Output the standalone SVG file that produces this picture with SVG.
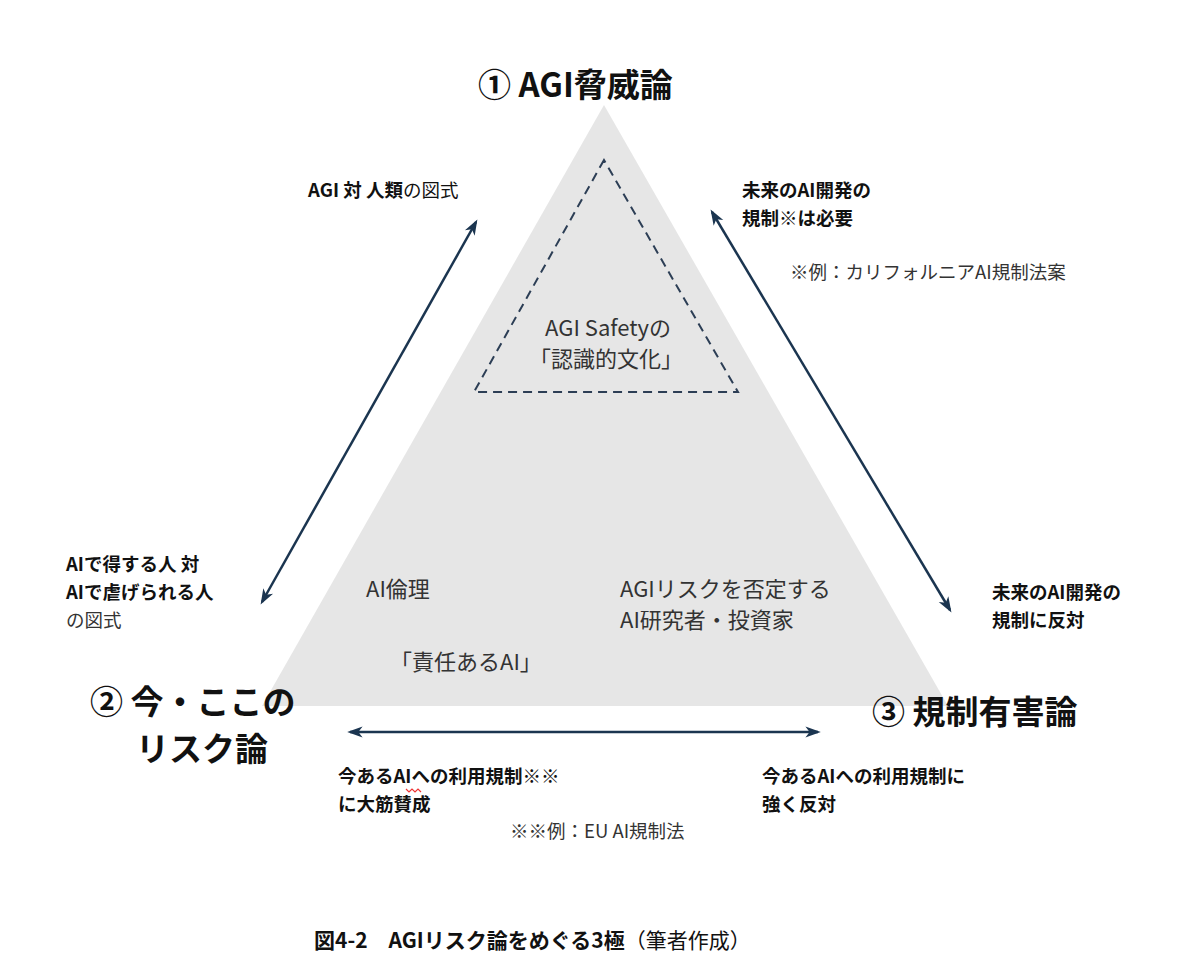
<svg xmlns="http://www.w3.org/2000/svg" width="1184" height="966" viewBox="0 0 1184 966">
<style>
text{font-family:"Noto Sans CJK JP","Noto Sans",sans-serif;fill:#222}
.t{font-size:33px;font-weight:700;fill:#111}
.b{font-size:18.5px;font-weight:700;fill:#111}
.n{font-size:18.5px;fill:#333}
.m{font-size:22px;fill:#333}
.c{stroke:#1b3550;stroke-width:2.5;fill:none;marker-start:url(#a);marker-end:url(#a)}
</style>
<defs><marker id="a" viewBox="0 0 10 10" refX="9" refY="5" markerWidth="7" markerHeight="7" orient="auto-start-reverse" markerUnits="userSpaceOnUse" style="overflow:visible"><path d="M-9,-3 L13,5 L-9,13 L-3,5 Z" fill="#1b3550"/></marker></defs>
<rect width="1184" height="966" fill="#fff"/>
<g id="triangle"><polygon points="604,105 262,706 948,706" fill="#e6e6e6"/></g>
<g id="safety"><polygon points="604,160 474,392 738,392" fill="none" stroke="#2c3e55" stroke-width="2" stroke-dasharray="9,6"/>
<text class="m" x="608" y="336" text-anchor="middle">AGI Safetyの</text>
<text class="m" x="606" y="367" text-anchor="middle">「認識的文化」</text></g>
<g id="inner"><text class="m" x="366" y="597">AI倫理</text>
<text class="m" x="390" y="670">「責任あるAI」</text>
<text class="m" x="620" y="597">AGIリスクを否定する</text>
<text class="m" x="620" y="628">AI研究者・投資家</text></g>
<g id="n1"><text class="t" x="478" y="97">① AGI脅威論</text></g>
<g id="n2"><text class="t" x="90" y="714">② 今・ここの</text><text class="t" x="136" y="761">リスク論</text></g>
<g id="n3"><text class="t" x="872" y="724">③ 規制有害論</text></g>
<g id="connectors">
<line class="c" x1="476" y1="222" x2="262" y2="602"/>
<line class="c" x1="712" y1="212" x2="950" y2="610"/>
<line class="c" x1="350" y1="732" x2="818" y2="732"/>
</g>
<g id="labels">
<text class="b" x="308" y="197">AGI 対 人類<tspan style="font-weight:400">の図式</tspan></text>
<text class="b" x="742" y="197">未来のAI開発の</text>
<text class="b" x="742" y="225">規制※は必要</text>
<text class="n" x="790" y="279">※例：カリフォルニアAI規制法案</text>
<text class="b" x="66" y="571">AIで得する人 対</text>
<text class="b" x="66" y="599">AIで虐げられる人</text>
<text class="n" x="66" y="627">の図式</text>
<text class="b" x="992" y="599">未来のAI開発の</text>
<text class="b" x="992" y="627">規制に反対</text>
<text class="b" x="338" y="783">今あるAIへの利用規制※※</text>
<text class="b" x="338" y="811">に大筋賛成</text>
<path d="M406,789 l3,3 3,-3 3,3 3,-3 3,3" stroke="#e33" stroke-width="1.2" fill="none"/>
<text class="n" x="510" y="838">※※例：EU AI規制法</text>
<text class="b" x="762" y="783">今あるAIへの利用規制に</text>
<text class="b" x="762" y="811">強く反対</text>
<text x="314" y="948" style="font-size:21px;font-weight:700;fill:#111">図4-2　AGIリスク論をめぐる3極<tspan style="font-weight:400">（筆者作成）</tspan></text>
</g>
</svg>
